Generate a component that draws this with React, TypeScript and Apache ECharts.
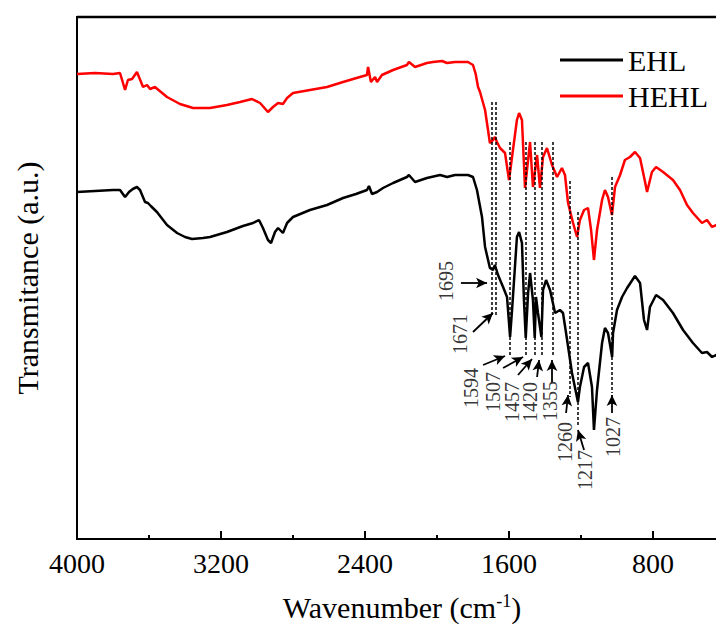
import React, { useEffect, useRef } from 'react';
import * as echarts from 'echarts';

const xTickLabels = [4000, 3200, 2400, 1600, 800];
const seriesNames = ['EHL', 'HEHL'];

// [wavenumber (cm-1), transmittance (a.u.)]
const ehl: number[][] = [
  [4000, 347], [3900, 348], [3800, 349], [3761, 349], [3733, 342], [3711, 347], [3690, 350], [3667, 352],
  [3650, 349], [3622, 337], [3606, 336], [3590, 333], [3556, 327], [3500, 314], [3444, 306], [3400, 302],
  [3361, 300], [3300, 301], [3261, 302], [3167, 307], [3078, 313], [3022, 316], [2989, 319], [2967, 311],
  [2939, 299], [2922, 296], [2900, 307], [2883, 311], [2856, 306], [2833, 316], [2800, 322], [2706, 329],
  [2611, 334], [2522, 341], [2450, 345], [2389, 349], [2378, 353], [2361, 345], [2333, 347], [2300, 351],
  [2244, 356], [2167, 362], [2156, 364], [2122, 357], [2056, 361], [1983, 364], [1944, 362], [1900, 364],
  [1828, 364], [1800, 362], [1778, 349], [1750, 322], [1733, 292], [1706, 271], [1689, 269], [1678, 274],
  [1661, 264], [1633, 252], [1611, 242], [1594, 202], [1583, 229], [1567, 272], [1556, 302], [1544, 307],
  [1528, 296], [1517, 239], [1507, 201], [1494, 246], [1483, 266], [1467, 239], [1457, 201], [1450, 242],
  [1439, 226], [1420, 202], [1411, 249], [1394, 259], [1372, 249], [1344, 226], [1317, 229], [1300, 226],
  [1283, 206], [1250, 166], [1217, 137], [1206, 152], [1183, 172], [1161, 176], [1139, 152], [1128, 109],
  [1111, 149], [1083, 196], [1067, 211], [1050, 206], [1027, 182], [1022, 206], [1000, 229], [972, 242],
  [944, 251], [900, 263], [872, 256], [850, 219], [833, 209], [817, 232], [783, 244], [744, 239],
  [689, 226], [633, 209], [578, 196], [528, 186], [500, 187], [472, 182], [450, 184], [400, 182],
];

const hehl: number[][] = [
  [4000, 465], [3900, 466], [3800, 465], [3761, 466], [3733, 449], [3717, 459], [3694, 460], [3667, 467],
  [3633, 452], [3611, 454], [3594, 450], [3567, 452], [3500, 442], [3428, 435], [3355, 431], [3261, 431],
  [3167, 434], [3094, 437], [3028, 440], [2983, 436], [2939, 427], [2911, 432], [2883, 436], [2856, 435],
  [2833, 441], [2800, 446], [2706, 449], [2611, 452], [2522, 457], [2428, 462], [2389, 464], [2383, 472],
  [2367, 457], [2344, 462], [2333, 457], [2306, 464], [2244, 469], [2167, 474], [2156, 477], [2122, 472],
  [2056, 476], [2022, 477], [1972, 478], [1944, 476], [1900, 477], [1828, 477], [1800, 474], [1785, 465],
  [1772, 452], [1761, 447], [1733, 429], [1706, 396], [1689, 399], [1678, 402], [1667, 397], [1650, 391],
  [1622, 386], [1600, 359], [1578, 389], [1556, 419], [1544, 426], [1528, 419], [1511, 351], [1494, 379],
  [1483, 397], [1467, 352], [1444, 384], [1428, 351], [1411, 382], [1389, 391], [1361, 374], [1333, 362],
  [1306, 371], [1289, 364], [1272, 336], [1244, 316], [1222, 302], [1206, 319], [1183, 329], [1161, 331],
  [1144, 309], [1128, 279], [1111, 309], [1083, 339], [1067, 349], [1050, 342], [1028, 324], [1011, 352],
  [983, 364], [956, 379], [928, 382], [900, 387], [872, 381], [844, 357], [833, 347], [806, 367],
  [783, 372], [744, 367], [689, 359], [650, 349], [611, 334], [578, 326], [528, 316], [500, 319],
  [472, 312], [450, 314], [400, 312],
];

// assigned absorption bands
const peakWavenumbers = [1695, 1671, 1594, 1507, 1457, 1420, 1355, 1260, 1217, 1027];
const guideTop = [437, 437, 397, 397, 397, 397, 397, 358, 327, 362];
const guideBottom = [224, 224, 184, 184, 184, 184, 182, 142, 112, 146];
const arrowFrom = [[1867, 256], [1800, 207], [1744, 174], [1633, 171], [1550, 164], [1444, 162], [1361, 157], [1283, 126], [1183, 89], [1028, 126]];
const arrowTo = [[1722, 256], [1689, 226], [1622, 183], [1522, 182], [1472, 180], [1433, 179], [1361, 179], [1272, 144], [1217, 109], [1028, 144]];
const labelAt = [[1950, 258], [1872, 205], [1811, 151], [1689, 147], [1583, 137], [1483, 137], [1372, 138], [1289, 97], [1178, 69], [1022, 102]];

const Y_MAX = 522;

export default function App() {
  const ref = useRef<HTMLDivElement>(null);
  useEffect(() => {
    const chart = echarts.init(ref.current!, null, { renderer: 'svg' });
    const font = "'Liberation Serif', 'Times New Roman', serif";
    const guideLines = peakWavenumbers.map((w, i) => [
      { coord: [w, guideTop[i]] },
      { coord: [w, guideBottom[i]] },
    ]);
    const arrows = arrowFrom.map((f, i) => [{ coord: f }, { coord: arrowTo[i] }]);
    const labels = labelAt.map((p, i) => [p[0], p[1], String(peakWavenumbers[i])]);

    chart.setOption({
      animation: false,
      backgroundColor: '#fff',
      grid: {
        left: 77, top: 17, width: 720, height: 522, show: true, borderColor: '#000', borderWidth: 2,
        containLabel: false, outerBoundsMode: 'none',
      },
      graphic: [
        {
          type: 'line', z: 100, silent: true,
          shape: { x1: 77, y1: 17, x2: 716, y2: 17 },
          style: { stroke: '#000', lineWidth: 2.5 },
        },
      ],
      legend: {
        data: seriesNames,
        orient: 'vertical',
        left: 555,
        top: 40,
        icon: 'rect',
        itemWidth: 63,
        itemHeight: 3,
        itemGap: 6,
        textStyle: { fontSize: 30, fontFamily: font, color: '#000', lineHeight: 30 },
      },
      xAxis: {
        type: 'value',
        inverse: true,
        min: 0,
        max: 4000,
        interval: 800,
        axisLine: { lineStyle: { color: '#000', width: 2 } },
        axisTick: { inside: true, length: 8, lineStyle: { color: '#000', width: 2 } },
        minorTick: { show: true, splitNumber: 2, length: 4, lineStyle: { color: '#000', width: 2 } },
        splitLine: { show: false },
        minorSplitLine: { show: false },
        axisLabel: {
          color: '#000',
          fontSize: 28,
          fontFamily: font,
          margin: 10,
          formatter: (v: number) => (xTickLabels.includes(v) ? String(v) : ''),
        },
        name: 'Wavenumber (cm{sup|-1})',
        nameLocation: 'middle',
        nameGap: 53,
        nameTextStyle: {
          color: '#000',
          fontSize: 30,
          fontFamily: font,
          padding: [0, 70, 0, 0],
          rich: { sup: { fontSize: 18, fontFamily: font, color: '#000', verticalAlign: 'top' } },
        },
      },
      yAxis: {
        type: 'value',
        min: 0,
        max: Y_MAX,
        axisLine: { show: true, lineStyle: { color: '#000', width: 2 } },
        axisTick: { show: false },
        axisLabel: { show: false },
        splitLine: { show: false },
        name: 'Transmitance (a.u.)',
        nameLocation: 'middle',
        nameGap: 35,
        nameTextStyle: { color: '#000', fontSize: 30, fontFamily: font },
      },
      series: [
        {
          name: 'EHL', type: 'line', data: ehl, symbol: 'none', color: '#000',
          lineStyle: { color: '#000', width: 2.5 }, z: 3,
        },
        {
          name: 'HEHL', type: 'line', data: hehl, symbol: 'none', color: '#ff0000',
          lineStyle: { color: '#ff0000', width: 2.5 }, z: 3,
        },
        {
          name: 'guides', type: 'line', data: [], symbol: 'none',
          markLine: {
            silent: true, symbol: 'none', label: { show: false },
            lineStyle: { type: [3, 2], color: '#000', width: 1.5 },
            data: guideLines,
          },
        },
        {
          name: 'arrows', type: 'line', data: [], symbol: 'none',
          markLine: {
            silent: true, symbol: ['none', 'arrow'], symbolSize: [8, 11], label: { show: false },
            lineStyle: { type: 'solid', color: '#000', width: 1.8 },
            itemStyle: { color: '#000' },
            data: arrows,
          },
        },
        {
          name: 'labels', type: 'scatter', data: labels, symbolSize: 1,
          itemStyle: { color: 'rgba(0,0,0,0)' },
          label: {
            show: true, position: 'inside', rotate: 90, color: '#000', fontSize: 20, fontFamily: font,
            formatter: (p: any) => p.data[2],
          },
        },
      ],
    });
    return () => chart.dispose();
  }, []);
  return <div ref={ref} style={{ position: 'fixed', left: 0, top: 0, width: 716, height: 629 }} />;
}
